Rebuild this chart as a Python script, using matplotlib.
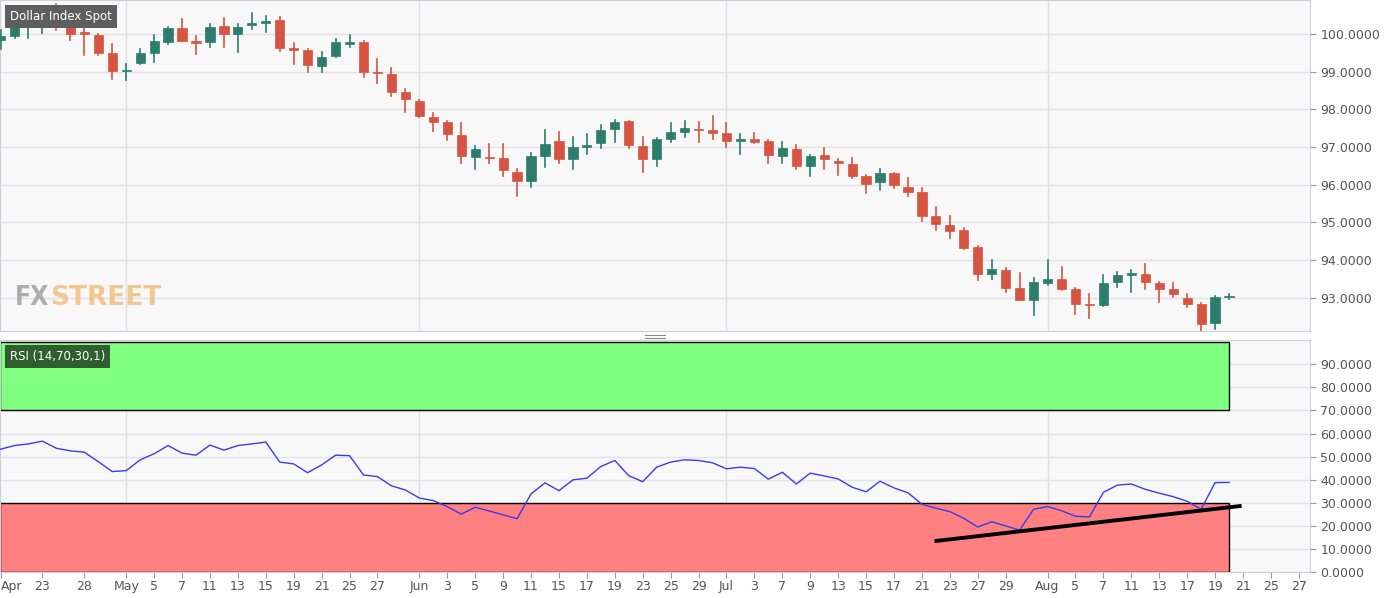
import matplotlib
matplotlib.use("Agg")
import matplotlib.pyplot as plt
from matplotlib.patches import Rectangle
import pandas as pd
import numpy as np

opens = [99.85,99.95,100.24,100.30,100.37,100.20,100.05,99.97,99.50,99.02,
         99.23,99.49,99.79,100.16,99.82,99.79,100.21,100.00,100.25,100.29,
         100.37,99.63,99.57,99.15,99.41,99.74,99.78,99.00,98.93,98.46,
         98.22,97.79,97.66,97.31,96.73,96.74,96.70,96.35,96.09,96.75,
         97.15,96.67,97.00,97.10,97.47,97.68,97.02,96.67,97.21,97.39,
         97.47,97.46,97.37,97.16,97.21,97.15,96.75,96.94,96.49,96.78,
         96.62,96.54,96.22,96.06,96.30,95.93,95.80,95.16,94.94,94.79,
         94.36,93.64,93.75,93.27,92.95,93.40,93.50,93.24,92.84,92.80,
         93.43,93.61,93.64,93.40,93.24,93.00,92.84,92.33,93.02]
closes = [99.95,100.20,100.32,100.35,100.19,100.00,99.99,99.50,99.02,99.05,
          99.49,99.81,100.16,99.81,99.76,100.19,100.00,100.19,100.28,100.34,
          99.63,99.57,99.17,99.39,99.79,99.78,98.99,98.96,98.46,98.27,
          97.82,97.66,97.34,96.75,96.94,96.70,96.38,96.09,96.75,97.07,
          96.67,96.99,97.06,97.45,97.66,97.05,96.67,97.21,97.39,97.50,
          97.44,97.37,97.15,97.20,97.14,96.78,96.97,96.49,96.75,96.67,
          96.57,96.22,96.03,96.30,96.00,95.80,95.18,94.97,94.78,94.33,
          93.64,93.77,93.27,92.95,93.43,93.50,93.24,92.84,92.80,93.40,
          93.61,93.65,93.43,93.24,93.11,92.84,92.31,93.03,93.05]
highs = [100.10,100.40,100.50,100.65,100.80,100.35,100.20,100.00,99.73,99.20,
         99.60,99.97,100.18,100.40,99.95,100.27,100.43,100.27,100.56,100.48,
         100.45,99.76,99.60,99.52,99.87,99.97,99.80,99.33,99.10,98.55,
         98.25,97.90,97.68,97.63,97.02,97.07,97.07,96.43,96.83,97.45,
         97.39,97.26,97.34,97.58,97.71,97.70,97.26,97.23,97.63,97.68,
         97.66,97.82,97.63,97.34,97.37,97.18,97.13,97.05,96.78,96.97,
         96.67,96.70,96.25,96.41,96.32,96.19,95.90,95.40,95.16,94.85,
         94.38,94.01,93.80,93.67,93.53,94.01,93.82,93.26,93.11,93.61,
         93.69,93.75,93.90,93.42,93.40,93.11,92.86,93.05,93.11]
lows = [99.60,99.90,99.90,100.03,100.10,99.85,99.44,99.45,98.80,98.78,
        99.20,99.26,99.73,99.80,99.47,99.65,99.65,99.52,100.13,100.05,
        99.55,99.20,98.99,98.99,99.38,99.65,98.86,98.70,98.35,97.92,
        97.80,97.42,97.18,96.57,96.43,96.57,96.22,95.69,95.93,96.46,
        96.57,96.43,96.81,96.97,97.13,96.97,96.35,96.51,97.13,97.26,
        97.13,97.21,96.99,96.81,97.10,96.57,96.57,96.43,96.22,96.43,
        96.27,96.17,95.77,95.87,95.90,95.71,95.05,94.81,94.60,94.30,
        93.48,93.50,93.16,92.95,92.55,93.35,93.20,92.57,92.47,92.77,
        93.29,93.16,93.24,92.89,93.03,92.76,92.12,92.17,92.98]
rsi = [53.2,54.8,55.5,56.7,53.6,52.5,51.9,47.8,43.5,43.9,
       48.6,51.2,54.8,51.5,50.6,55.0,52.8,54.8,55.5,56.3,
       47.6,46.8,43.0,46.4,50.6,50.4,42.0,41.3,37.3,35.5,
       32.0,30.9,28.3,25.0,28.0,26.4,24.7,23.0,33.8,38.6,
       35.2,39.9,40.6,45.7,48.3,41.7,39.1,45.4,47.6,48.6,
       48.3,47.3,44.7,45.4,44.8,40.2,43.2,38.1,42.8,41.6,
       40.3,36.7,34.7,39.3,36.4,34.3,29.3,27.6,26.1,23.2,
       19.4,21.7,19.9,18.1,27.1,28.3,26.5,24.1,23.8,34.5,
       37.6,38.1,35.8,34.1,32.6,30.6,27.1,38.7,38.8]
trend_rsi = [13.3, 28.6]
trend_dates = ["2020-07-22", "2020-08-21"]

dates = pd.bdate_range("2020-04-20", periods=94)
tick_dates = ["2020-04-20","2020-04-23","2020-04-28","2020-05-01","2020-05-05","2020-05-07",
              "2020-05-11","2020-05-13","2020-05-15","2020-05-19","2020-05-21","2020-05-25",
              "2020-05-27","2020-06-01","2020-06-03","2020-06-05","2020-06-09","2020-06-11",
              "2020-06-15","2020-06-17","2020-06-19","2020-06-23","2020-06-25","2020-06-29",
              "2020-07-01","2020-07-03","2020-07-07","2020-07-09","2020-07-13","2020-07-15",
              "2020-07-17","2020-07-21","2020-07-23","2020-07-27","2020-07-29","2020-08-03",
              "2020-08-05","2020-08-07","2020-08-11","2020-08-13","2020-08-17","2020-08-19",
              "2020-08-21","2020-08-25","2020-08-27"]
tick_labels = ["Apr","23","28","May","5","7","11","13","15","19","21","25","27","Jun",
               "3","5","9","11","15","17","19","23","25","29","Jul","3","7","9","13","15",
               "17","21","23","27","29","Aug","5","7","11","13","17","19","21","25","27"]
month_dates = ["2020-05-01","2020-06-01","2020-07-01","2020-08-03"]
price_ticks = [93,94,95,96,97,98,99,100]
rsi_ticks = [0,10,20,30,40,50,60,70,80,90]

pos = {d.strftime("%Y-%m-%d"): i for i, d in enumerate(dates)}
tick_pos = [pos[d] for d in tick_dates]

W, H = 1387, 598
fig = plt.figure(figsize=(W/100, H/100), dpi=100)
fig.patch.set_facecolor("white")
def px(l, t, r, b):
    return [l/W, 1-b/H, (r-l)/W, (b-t)/H]
ax1 = fig.add_axes(px(0, 0, 1310, 331))
ax2 = fig.add_axes(px(0, 340, 1310, 572))
x0 = -0.04
xlim = (x0, x0 + 1310/13.96)
bg = "#f8f8f9"
grid_c = "#e3e3e6"
for ax in (ax1, ax2):
    ax.set_facecolor(bg)
    ax.set_xlim(*xlim)
    for s in ax.spines.values():
        s.set_color("#cfd0d6")
    ax.yaxis.tick_right()
    ax.tick_params(axis="y", colors="#555555", labelsize=9, length=4, color="#999999")
    for m in month_dates:
        ax.axvline(pos[m], color="#e0e0e3", lw=1, zorder=0)

green, red = "#2b7d6c", "#d65441"
n = len(opens)
for i in range(n):
    o, c, h, l = opens[i], closes[i], highs[i], lows[i]
    col = green if c >= o else red
    ax1.plot([i, i], [l, h], color=col, lw=1.2, zorder=3)
    bot, top = min(o, c), max(o, c)
    ax1.add_patch(Rectangle((i-0.33, bot), 0.66, max(top-bot, 0.025), facecolor=col,
                            edgecolor=col, lw=0.5, zorder=4))
ax1.set_ylim(92.12, 100.9)
ax1.set_yticks(price_ticks)
ax1.set_yticklabels([f"{v:.4f}" for v in price_ticks])
ax1.grid(axis="y", color=grid_c, lw=1)
ax1.set_axisbelow(True)
ax1.set_xticks([])
ax1.text(10/1310, 1-10/331, "Dollar Index Spot", transform=ax1.transAxes, ha="left", va="top",
         fontsize=8.5, color="white", zorder=10,
         bbox=dict(boxstyle="square,pad=0.4", facecolor="#5e5e5e", edgecolor="none"))
fx = ax1.text(15/1310, 1-298/331, "FX", transform=ax1.transAxes, ha="left", va="center",
              fontsize=19, color="#a0a0a0", fontweight="bold", fontstretch="condensed", alpha=0.85)
fig.canvas.draw()
bb = fx.get_window_extent()
ax1.text((bb.x1 + 1) / 1310 if False else (bb.x1 + 1 - ax1.get_window_extent().x0) / ax1.get_window_extent().width,
         1-298/331, "STREET", transform=ax1.transAxes, ha="left", va="center",
         fontsize=19, color="#f0c080", fontweight="bold", alpha=0.85)

ax2.set_ylim(-0.1, 100.6)
last = n - 1
ax2.add_patch(Rectangle((xlim[0], 70), last - xlim[0], 29.7, facecolor="#80ff80",
                        edgecolor="black", lw=1, zorder=1))
ax2.add_patch(Rectangle((xlim[0], 0), last - xlim[0], 30, facecolor="#ff8080",
                        edgecolor="black", lw=1, zorder=1))
ax2.plot(range(n), rsi, color="#3a3aee", lw=1, zorder=3)
ax2.plot([pos[d] - 0.1 for d in trend_dates], trend_rsi, color="black", lw=2.8,
         solid_capstyle="butt", zorder=4)
ax2.set_yticks(rsi_ticks)
ax2.set_yticklabels([f"{v:.4f}" for v in rsi_ticks])
ax2.grid(axis="y", color=grid_c, lw=1)
ax2.set_axisbelow(True)
ax2.set_xticks(tick_pos)
ax2.set_xticklabels(tick_labels)
ax2.tick_params(axis="x", colors="#555555", labelsize=9, length=4, color="#999999", pad=2)
lbls = ax2.get_xticklabels()
lbls[0].set_ha("left")
ax2.text(10/1310, 1-10/232, "RSI (14,70,30,1)", transform=ax2.transAxes, ha="left", va="top",
         fontsize=8.5, color="white", zorder=10,
         bbox=dict(boxstyle="square,pad=0.4", facecolor="#2f5e2f", edgecolor="none"))

for yy in (335, 337.5):
    fig.add_artist(plt.Line2D([645/W, 665/W], [1-yy/H, 1-yy/H], color="#888888", lw=0.8))

fig.savefig("out.png", dpi=100, facecolor="white")
